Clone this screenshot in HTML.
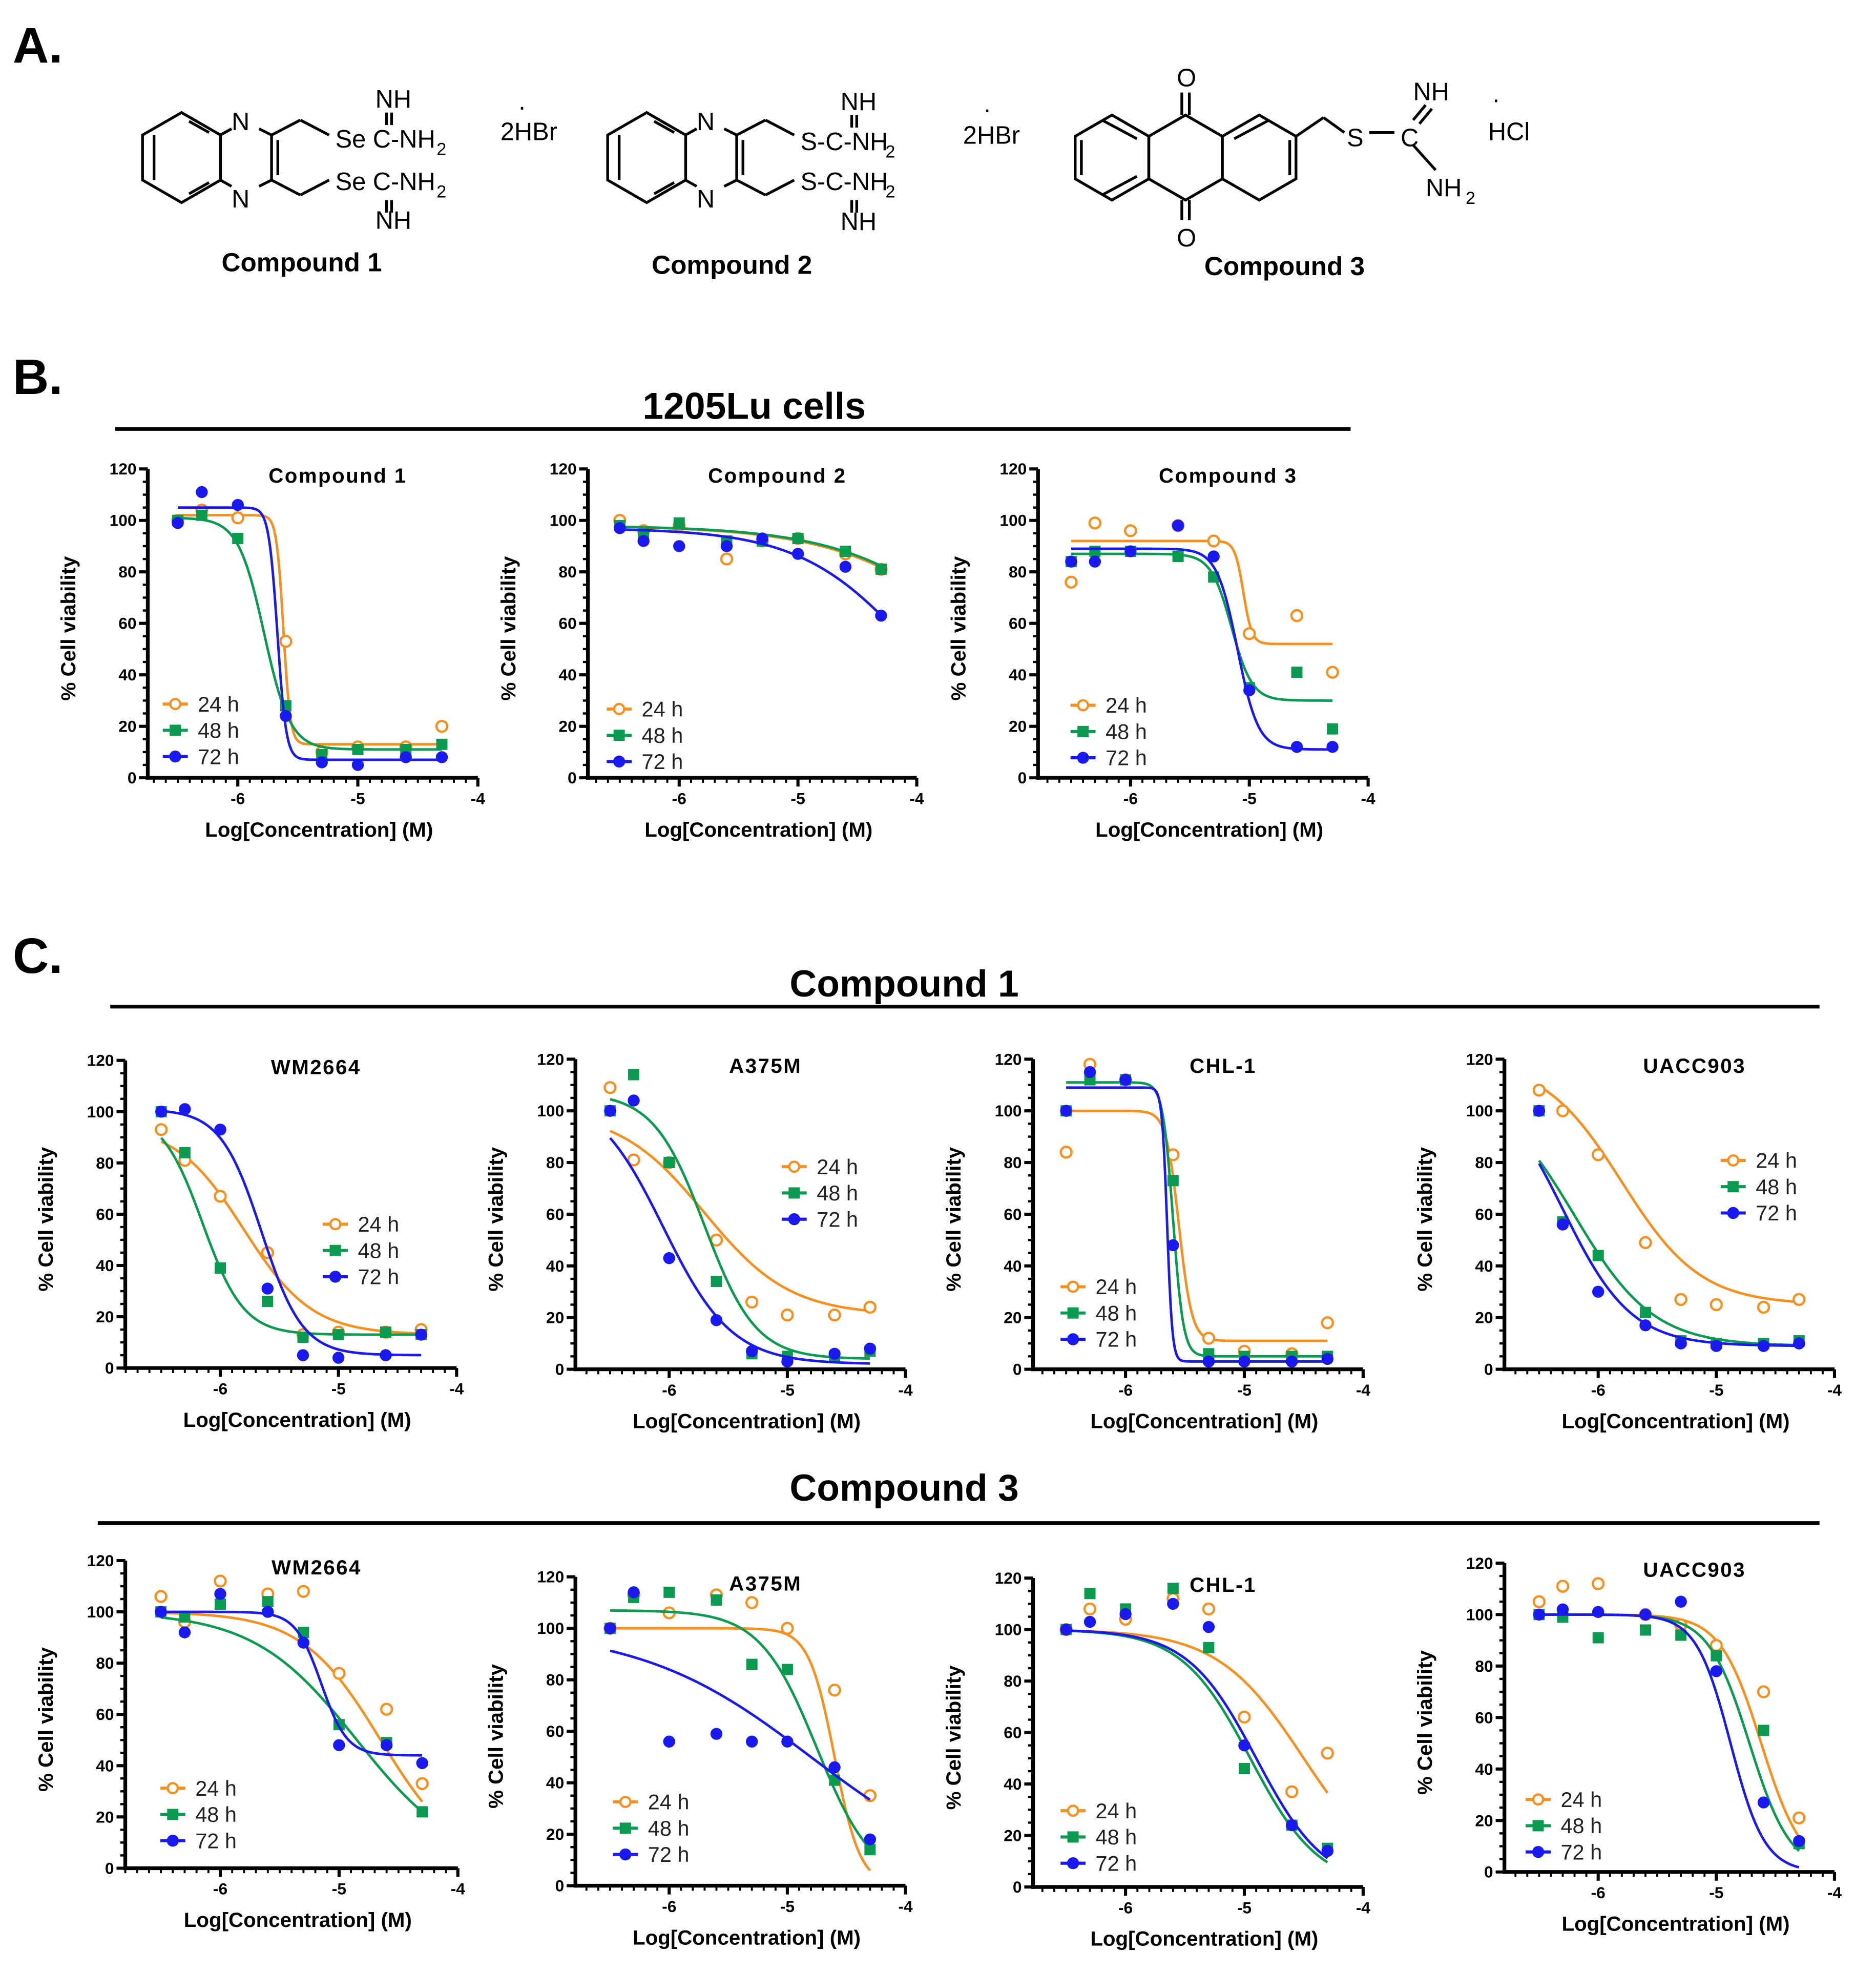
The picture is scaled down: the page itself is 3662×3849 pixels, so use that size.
<!DOCTYPE html>
<html><head><meta charset="utf-8">
<style>
html,body{margin:0;padding:0;background:#fff;}
svg{display:block;font-family:"Liberation Sans",Arial,sans-serif;}
</style></head>
<body>
<svg id="fig" width="3662" height="3849" viewBox="0 0 1500 1577" xmlns="http://www.w3.org/2000/svg">
<g font-weight="bold" fill="#000">
<text x="10" y="50" font-size="40">A.</text>
<text x="10" y="315" font-size="40">B.</text>
<text x="10" y="778" font-size="40">C.</text>
<text x="603" y="335" font-size="30" text-anchor="middle">1205Lu cells</text>
<line x1="92" y1="343" x2="1080" y2="343" stroke="#000" stroke-width="3"/>
<text x="723" y="797" font-size="30" text-anchor="middle">Compound 1</text>
<line x1="88" y1="805" x2="1455" y2="805" stroke="#000" stroke-width="3"/>
<text x="723" y="1200" font-size="30" text-anchor="middle">Compound 3</text>
<line x1="78" y1="1218" x2="1455" y2="1218" stroke="#000" stroke-width="3"/>
</g>
<g id="chem" stroke="#000" stroke-width="2.2" fill="none"></g>
<g fill="#000" font-size="21" font-weight="bold">
<text x="177" y="217">Compound 1</text>
<text x="521" y="219">Compound 2</text>
<text x="963" y="220">Compound 3</text>
<g font-weight="normal" font-size="20">
<text x="185" y="104">N</text><text x="185" y="166">N</text>
<text x="268" y="118">Se</text><text x="298" y="118">C-NH</text><text x="349" y="124" font-size="14">2</text>
<text x="268" y="152">Se</text><text x="298" y="152">C-NH</text><text x="349" y="158" font-size="14">2</text>
<text x="300" y="86">NH</text><text x="300" y="183">NH</text>
<text x="400" y="112">2HBr</text><text x="414" y="92">·</text>
<text x="557" y="104">N</text><text x="557" y="166">N</text>
<text x="640" y="120">S-C-NH</text><text x="708" y="126" font-size="14">2</text>
<text x="640" y="152">S-C-NH</text><text x="708" y="158" font-size="14">2</text>
<text x="672" y="88">NH</text><text x="672" y="184">NH</text>
<text x="770" y="115">2HBr</text><text x="786" y="94">·</text>
<text x="941" y="69">O</text><text x="941" y="197">O</text>
<text x="1077" y="117">S</text><text x="1120" y="117">C</text>
<text x="1130" y="80">NH</text><text x="1140" y="157">NH</text><text x="1172" y="163" font-size="14">2</text>
<text x="1190" y="112">HCl</text><text x="1193" y="86">·</text>
</g></g>
<g id="panels"></g>
</svg>
<script>
// ---------- chart data (log concentration, % viability) ----------
const xsA = [-6.5,-6.3,-6,-5.6,-5.3,-5,-4.6,-4.3];
const xsB = [-6.5,-6.3,-6,-5.6,-5.3,-5,-4.6,-4.3];
const yTicks = [0,20,40,60,80,100,120];
const xTicks = [-6,-5,-4];
const seriesNames = ["24 h","48 h","72 h"];
// B panels (1205Lu)
const b1_24=[100,104,101,53,10,12,12,20], b1_48=[100,102,93,28,9,11,11,13], b1_72=[99,111,106,24,6,5,8,8];
const b1_f24=[102,13,-5.62,15], b1_f48=[101,11,-5.78,4], b1_f72=[105,7,-5.67,12];
const b2_24=[100,96,98,85,92,93,87,81], b2_48=[98,95,99,92,92,93,88,81], b2_72=[97,92,90,90,93,87,82,63];
const b2_f24=[98,0,-3.3,0.7], b2_f48=[98,0,-3.3,0.72], b2_f72=[97,0,-4.0,0.9];
const b3_24=[76,99,96,98,92,56,63,41], b3_48=[84,88,88,86,78,35,41,19], b3_72=[84,84,88,98,86,34,12,12];
const b3_f24=[92,52,-5.05,12], b3_f48=[87,30,-5.15,5], b3_f72=[89,11,-5.1,5];
// C Compound 1
const c1_24=[93,81,67,45,13,14,14,15], c1_48=[100,84,39,26,12,13,14,13], c1_72=[100,101,93,31,5,4,5,13];
const c1_f24=[95,13,-5.8,1.5], c1_f48=[100,13,-6.15,2.5], c1_f72=[101,5,-5.65,2.5];
const c2_24=[109,81,80,50,26,21,21,24], c2_48=[100,114,80,34,6,5,5,7], c2_72=[100,104,43,19,7,3,6,8];
const c2_f24=[100,21,-5.7,1.2], c2_f48=[107,4,-5.7,2], c2_f72=[108,2,-6.05,1.5];
const c3_24=[84,118,112,83,12,7,6,18], c3_48=[100,112,112,73,6,5,5,5], c3_72=[100,115,112,48,3,3,3,4];
const c3_f24=[100,11,-5.55,8], c3_f48=[111,5,-5.6,10], c3_f72=[109,3,-5.65,20];
const c4_24=[108,100,83,49,27,25,24,27], c4_48=[100,57,44,22,11,10,10,11], c4_72=[100,56,30,17,10,9,9,10];
const c4_f24=[120,25,-5.8,1.3], c4_f48=[110,9,-6.2,1.3], c4_f72=[115,9,-6.3,1.5];
// C Compound 3
const d1_24=[106,96,112,107,108,76,62,33], d1_48=[100,98,103,104,92,56,49,22], d1_72=[100,92,107,100,88,48,48,41];
const d1_f24=[100,0,-4.65,1.3], d1_f48=[100,0,-4.85,1], d1_f72=[100,44,-5.15,4];
const d2_24=[100,113,106,113,110,100,76,35], d2_48=[100,112,114,111,86,84,41,14], d2_72=[100,114,56,59,56,56,46,18];
const d2_f24=[100,0,-4.6,4], d2_f48=[107,0,-4.75,1.8], d2_f72=[100,0,-4.8,0.6];
const d3_24=[100,108,104,112,108,66,37,52], d3_48=[100,114,108,116,93,46,24,15], d3_72=[100,103,106,110,101,55,24,14];
const d3_f24=[100,0,-4.5,1.2], d3_f48=[100,0,-4.95,1.5], d3_f72=[100,0,-4.9,1.5];
const d4_24=[105,111,112,100,96,88,70,21], d4_48=[100,99,91,94,92,84,55,11], d4_72=[100,102,101,100,105,78,27,12];
const d4_f24=[100,0,-4.62,2.5], d4_f48=[100,0,-4.72,2.5], d4_f72=[100,0,-4.88,3];

const colors=["#F7901E","#0A9A50","#1A1AF0"];
const NS="http://www.w3.org/2000/svg";
function mk(tag,attrs,parent){const e=document.createElementNS(NS,tag);for(const k in attrs)e.setAttribute(k,attrs[k]);parent.appendChild(e);return e;}

const panels=[
 {id:"b1",title:"Compound 1",ax:118,x6:190,x4:382,top:375,bot:622,xs:xsA,ys:[b1_24,b1_48,b1_72],fits:[b1_f24,b1_f48,b1_f72],lg:[130,563]},
 {id:"b2",title:"Compound 2",ax:470,x6:543,x4:733,top:375,bot:622,xs:xsA,ys:[b2_24,b2_48,b2_72],fits:[b2_f24,b2_f48,b2_f72],lg:[485,567]},
 {id:"b3",title:"Compound 3",ax:830,x6:904,x4:1094,top:375,bot:622,xs:xsA,ys:[b3_24,b3_48,b3_72],fits:[b3_f24,b3_f48,b3_f72],lg:[856,564]},
 {id:"c1",title:"WM2664",ax:100,x6:176,x4:365,top:848,bot:1094,xs:xsA,ys:[c1_24,c1_48,c1_72],fits:[c1_f24,c1_f48,c1_f72],lg:[258,979]},
 {id:"c2",title:"A375M",ax:460,x6:535,x4:724,top:847,bot:1095,xs:xsA,ys:[c2_24,c2_48,c2_72],fits:[c2_f24,c2_f48,c2_f72],lg:[625,933]},
 {id:"c3",title:"CHL-1",ax:826,x6:900,x4:1090,top:847,bot:1095,xs:xsA,ys:[c3_24,c3_48,c3_72],fits:[c3_f24,c3_f48,c3_f72],lg:[848,1029]},
 {id:"c4",title:"UACC903",ax:1203,x6:1278,x4:1467,top:847,bot:1095,xs:xsA,ys:[c4_24,c4_48,c4_72],fits:[c4_f24,c4_f48,c4_f72],lg:[1376,928]},
 {id:"d1",title:"WM2664",ax:100,x6:176,x4:366,top:1248,bot:1494,xs:xsB,ys:[d1_24,d1_48,d1_72],fits:[d1_f24,d1_f48,d1_f72],lg:[128,1430]},
 {id:"d2",title:"A375M",ax:460,x6:535,x4:724,top:1261,bot:1508,xs:xsB,ys:[d2_24,d2_48,d2_72],fits:[d2_f24,d2_f48,d2_f72],lg:[490,1441]},
 {id:"d3",title:"CHL-1",ax:826,x6:900,x4:1090,top:1262,bot:1509,xs:xsB,ys:[d3_24,d3_48,d3_72],fits:[d3_f24,d3_f48,d3_f72],lg:[848,1448]},
 {id:"d4",title:"UACC903",ax:1203,x6:1278,x4:1467,top:1250,bot:1497,xs:xsB,ys:[d4_24,d4_48,d4_72],fits:[d4_f24,d4_f48,d4_f72],lg:[1220,1439]}
];
const root=document.getElementById("panels");
function f4(p,x){return p[1]+(p[0]-p[1])/(1+Math.pow(10,(x-p[2])*p[3]));}
panels.forEach(P=>{
  const g=mk("g",{},root);
  
  
  const dec=(P.x4-P.x6)/2;
  const sx=v=>P.x6+(v+6)*dec;
  const xmin=-6-(P.x6-P.ax)/dec;
  const sy=v=>P.bot-(v/120)*(P.bot-P.top);
  const axes=mk("g",{stroke:"#000","stroke-width":3,fill:"none"},g);
  
  
  mk("line",{x1:P.ax,y1:P.top,x2:P.ax,y2:P.bot+1.5},axes);
  mk("line",{x1:P.ax-1.5,y1:P.bot,x2:P.x4,y2:P.bot},axes);
  for(let v=0;v<=120;v+=5){const y=sy(v);const big=v%20===0;mk("line",{x1:P.ax-(big?7:4),y1:y,x2:P.ax,y2:y,"stroke-width":big?2.5:1.8},axes);}
  for(let i=0;i<=30;i++){const v=-7+i*0.1;if(v<xmin-0.001||v>-3.999)continue;const x=sx(v);const r=Math.round(v*10);const big=r%10===0;mk("line",{x1:x,y1:P.bot,x2:x,y2:P.bot+(big?7:4),"stroke-width":big?2.5:1.6},axes);}
  const tl=mk("g",{"font-size":13,"font-weight":"bold",fill:"#000"},g);
  
  
  yTicks.forEach(v=>{const t=mk("text",{x:P.ax-9,y:sy(v)+4.5,"text-anchor":"end"},tl);t.textContent=v;});
  xTicks.forEach(v=>{const t=mk("text",{x:sx(v),y:P.bot+21,"text-anchor":"middle"},tl);t.textContent=v;});
  const xl=mk("text",{x:(P.ax+P.x4)/2+5,y:P.bot+47,"text-anchor":"middle","font-size":16.5,"font-weight":"bold"},g);
  xl.textContent="Log[Concentration] (M)";
  
  
  const ycx=P.ax-58, ycy=(P.top+P.bot)/2+4;
  const yl=mk("text",{x:ycx,y:ycy,"text-anchor":"middle","font-size":16.5,"font-weight":"bold",transform:`rotate(-90 ${ycx} ${ycy})`},g);
  yl.textContent="% Cell viability";
  
  
  const ti=mk("text",{x:(P.ax+P.x4)/2+20,y:P.top+11,"text-anchor":"middle","font-size":16.5,"font-weight":"bold","letter-spacing":"1"},g);
  ti.textContent=P.title;
  
  
  P.ys.forEach((ys,s)=>{
    const c=colors[s];
    const fit=P.fits[s];
    let d="";
    for(let i=0;i<=200;i++){const v=P.xs[0]+(P.xs[P.xs.length-1]-P.xs[0])*i/200;let yv=Math.max(0,Math.min(122,f4(fit,v)));d+=(i?"L":"M")+sx(v).toFixed(2)+","+sy(yv).toFixed(2);}
    const path=mk("path",{d:d,stroke:c,"stroke-width":2,fill:"none"},g);
    
    
    ys.forEach((v,i)=>{
      const x=sx(P.xs[i]),y=sy(v);
      let m;
      if(s===0)m=mk("circle",{cx:x,cy:y,r:4.3,fill:"#fff",stroke:c,"stroke-width":1.8},g);
      else if(s===1)m=mk("rect",{x:x-4.5,y:y-4.5,width:9,height:9,fill:c},g);
      else m=mk("circle",{cx:x,cy:y,r:4.8,fill:c},g);
      
      
    });
  });
  const lg=mk("g",{},g);
  
  
  seriesNames.forEach((n,s)=>{
    const x=P.lg[0],y=P.lg[1]+s*21,c=colors[s];
    const e=mk("g",{},lg);
    
    
    mk("line",{x1:x,y1:y,x2:x+20,y2:y,stroke:c,"stroke-width":2.5},e);
    if(s===0)mk("circle",{cx:x+10,cy:y,r:4,fill:"#fff",stroke:c,"stroke-width":1.8},e);
    else if(s===1)mk("rect",{x:x+5.5,y:y-4.5,width:9,height:9,fill:c},e);
    else mk("circle",{cx:x+10,cy:y,r:4.8,fill:c},e);
    const t=mk("text",{x:x+28,y:y+6,"font-size":17,fill:"#222"},e);t.textContent=n;
  });
});
// chemical structures (line art)
const chem=document.getElementById("chem");
function hex(cx,cy,r){let d="";for(let i=0;i<6;i++){const a=Math.PI/180*(60*i+30);d+=(i?"L":"M")+(cx+r*Math.cos(a)).toFixed(1)+","+(cy+r*Math.sin(a)).toFixed(1);}return d+"Z";}
function line(a,b,c,d){mk("line",{x1:a,y1:b,x2:c,y2:d},chem);}
[[145,217],[517,589]].forEach(([b,q])=>{
  mk("path",{d:hex(b,126,36)},chem);
  line(b-22,108,b-22,144);line(b+6,97,b+22,106);line(b+6,155,b+22,146);
  line(b+31,108,b+40,103);line(b+31,144,b+40,149);
  line(b+62,103,b+72,108);line(b+62,149,b+72,144);line(b+72,108,b+72,144);line(b+77,112,b+77,140);
  line(b+72,108,b+95,96);line(b+95,96,b+118,108);
  line(b+72,144,b+95,156);line(b+95,156,b+118,144);
});
// C=NH double bonds
[[311,90,100],[311,160,170],[683,92,102],[683,160,170]].forEach(([x,a,b])=>{line(x-2,a,x-2,b);line(x+2,a,x+2,b);});
// anthraquinone
const r3=34, w3=r3*Math.sqrt(3);
const cM=948, cL=cM-w3, cR=cM+w3;
mk("path",{d:hex(cL,126,r3)},chem);
mk("path",{d:hex(cM,126,r3)},chem);
mk("path",{d:hex(cR,126,r3)},chem);
line(cL-w3/2+5,112,cL-w3/2+5,140);
line(cL-8,96,cL+20,111);line(cL-8,156,cL+20,141);
line(cR+w3/2-5,112,cR+w3/2-5,140);
line(cR+8,96,cR-20,111);
line(cM-3,92,cM-3,74);line(cM+3,92,cM+3,74);
line(cM-3,160,cM-3,176);line(cM+3,160,cM+3,176);
line(cR+w3/2,109,cR+w3/2+22,94);line(cR+w3/2+22,94,1075,106);line(1095,106,1115,106);
line(1130,96,1140,84);line(1135,99,1145,87);line(1130,116,1148,136);
</script>
</body></html>
